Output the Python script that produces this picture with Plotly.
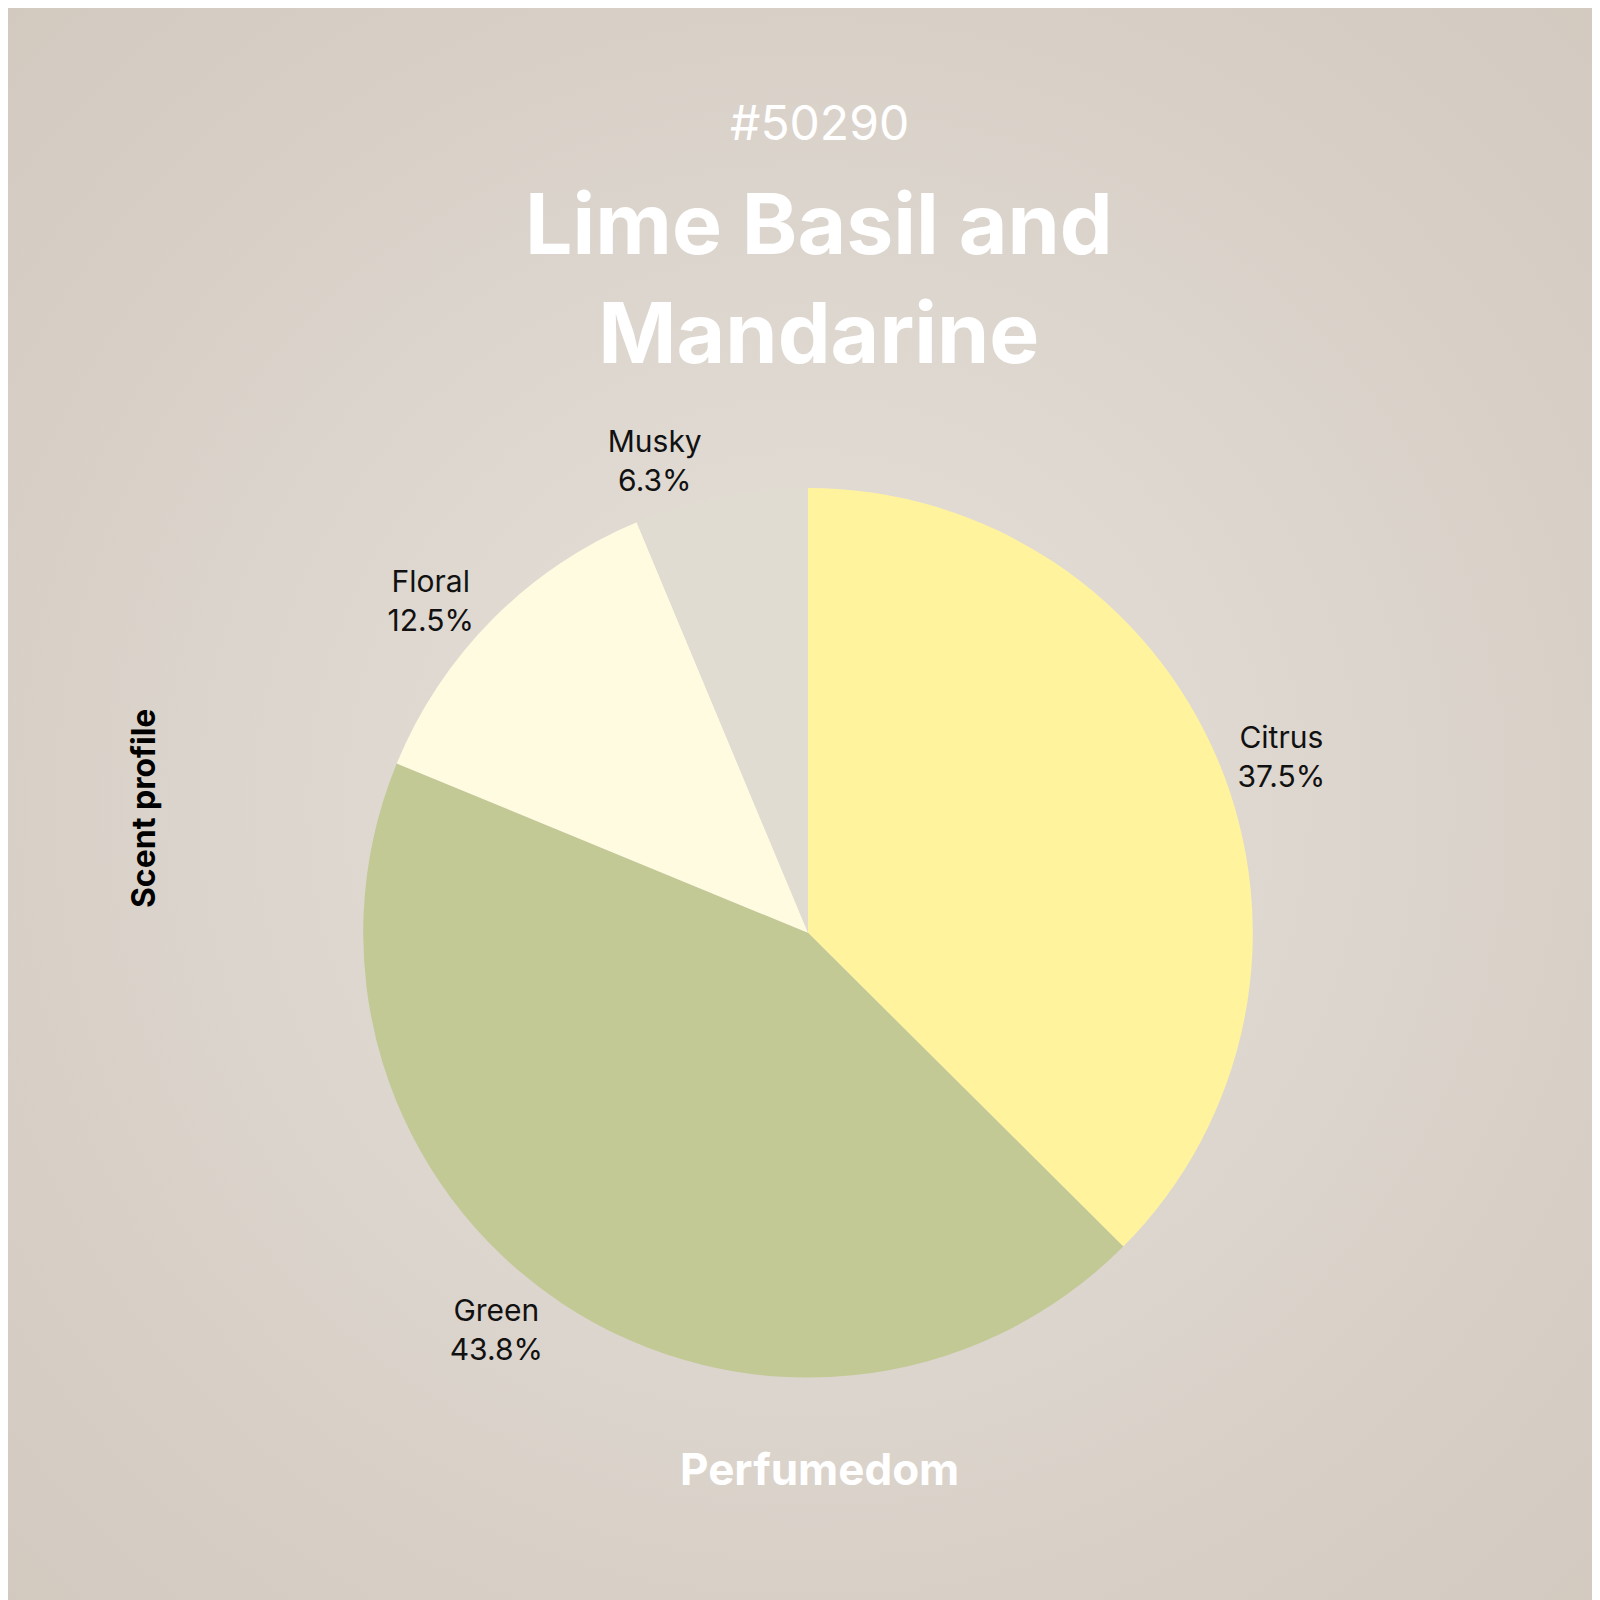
import plotly.graph_objects as go
import base64

labels = ["Citrus", "Green", "Floral", "Musky"]
values = [37.5, 43.8, 12.5, 6.3]
colors = ["#fff39e", "#c2c995", "#fffbe0", "#e1dcd1"]

svg = ('<svg xmlns="http://www.w3.org/2000/svg" width="1600" height="1600">'
       '<defs><radialGradient id="g" cx="50%" cy="50%" r="72%">'
       '<stop offset="0%" stop-color="#e6e1db"/><stop offset="100%" stop-color="#d2c9bf"/>'
       '</radialGradient></defs><rect width="1600" height="1600" fill="url(#g)"/></svg>')
uri = "data:image/svg+xml;base64," + base64.b64encode(svg.encode()).decode()

font = "Inter"
fig = go.Figure(go.Pie(
    labels=labels, values=values, sort=False, direction="clockwise", rotation=0,
    marker=dict(colors=colors, line=dict(width=0)),
    texttemplate="%{label}<br>%{percent:.1%}",
    textposition="outside", textfont=dict(family=font, size=30, color="#111"),
    domain=dict(x=[0.222, 0.778], y=[0.144, 0.700]), showlegend=False,
    hoverinfo="skip",
))
fig.update_layout(
    width=1600, height=1600, margin=dict(l=0, r=0, t=0, b=0),
    paper_bgcolor="#ddd6cf",
    images=[dict(source=uri, xref="paper", yref="paper", x=0, y=1, sizex=1, sizey=1,
                 sizing="stretch", layer="below")],
    annotations=[
        dict(text="#50290", x=0.507, y=0.948, xref="paper", yref="paper", showarrow=False,
             font=dict(family=font, size=48, color="white")),
        dict(text="<b>Lime Basil and<br>Mandarine</b>", x=0.507, y=0.898, xref="paper", yref="paper",
             showarrow=False, font=dict(family=font, size=84, color="white")),
        dict(text="<b>Perfumedom</b>", x=0.507, y=0.069, xref="paper", yref="paper",
             showarrow=False, font=dict(family=font, size=44, color="white")),
        dict(text="<b>Scent profile</b>", x=0.071, y=0.50, xref="paper", yref="paper",
             showarrow=False, textangle=-90, font=dict(family=font, size=32, color="black")),
    ],
)
fig.write_html("out.html")
